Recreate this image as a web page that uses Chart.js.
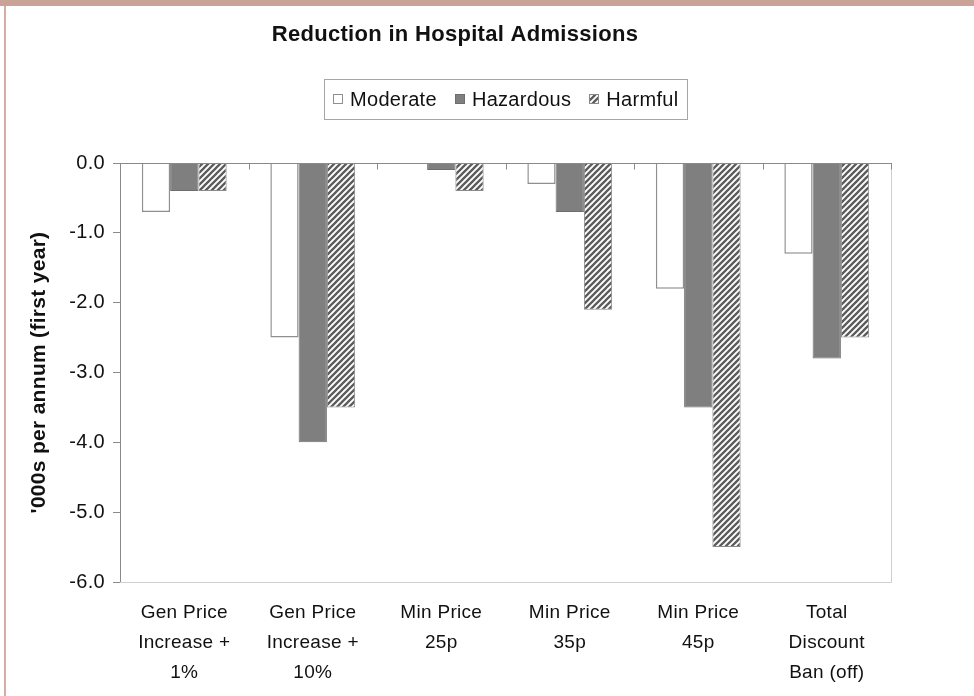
<!DOCTYPE html>
<html>
<head>
<meta charset="utf-8">
<title>Reduction in Hospital Admissions</title>
<script src="https://cdn.jsdelivr.net/npm/chart.js@4.4.1/dist/chart.umd.min.js"></script>
<style>
  html, body { margin: 0; padding: 0; background: #fff; }
  #wrap { position: relative; width: 974px; height: 696px; overflow: hidden; background: #fff; }
  #wrap canvas { position: absolute; left: 0; top: 0; }
  #frameTop { position: absolute; left: 0; top: 0; width: 974px; height: 6px; background: #c9a397; }
  #frameLeft { position: absolute; left: 4px; top: 6px; width: 2px; height: 690px; background: #d5ada2; }
</style>
</head>
<body>
<div id="wrap">
  <canvas id="chart" width="974" height="696"></canvas>
  <div id="frameTop"></div>
  <div id="frameLeft"></div>
</div>
<script>
// ---- data ----
const chartTitle = 'Reduction in Hospital Admissions';
const axisTitle = "'000s per annum (first year)";
const categories = [
  ['Gen Price', 'Increase +', '1%'],
  ['Gen Price', 'Increase +', '10%'],
  ['Min Price', '25p'],
  ['Min Price', '35p'],
  ['Min Price', '45p'],
  ['Total', 'Discount', 'Ban (off)']
];
const seriesNames = ['Moderate', 'Hazardous', 'Harmful'];
const moderate  = [-0.7, -2.5,  0.0, -0.3, -1.8, -1.3];
const hazardous = [-0.4, -4.0, -0.1, -0.7, -3.5, -2.8];
const harmful   = [-0.4, -3.5, -0.4, -2.1, -5.5, -2.5];
const yTicks = [0, -1, -2, -3, -4, -5, -6];

// ---- styling helpers ----
const FONT = '"Liberation Sans", Arial, Helvetica, sans-serif';
const TEXT = '#111111';

function stripePattern() {
  const t = document.createElement('canvas');
  t.width = 6; t.height = 6;
  const g = t.getContext('2d');
  g.fillStyle = '#ffffff';
  g.fillRect(0, 0, 6, 6);
  g.strokeStyle = '#5c5c5c';
  g.lineWidth = 2.3;
  g.beginPath();
  g.moveTo(-1, 7); g.lineTo(7, -1);
  g.moveTo(-4, 4); g.lineTo(4, -4);
  g.moveTo(2, 10); g.lineTo(10, 2);
  g.stroke();
  return g.createPattern(t, 'repeat');
}
const stripes = stripePattern();

const seriesStyle = [
  { backgroundColor: '#ffffff', borderColor: '#8f8f8f', borderWidth: 1.5 },
  { backgroundColor: '#7f7f7f', borderColor: '#6e6e6e', borderWidth: 1 },
  { backgroundColor: stripes,   borderColor: '#8a8a8a', borderWidth: 1 }
];
const seriesValues = [moderate, hazardous, harmful];

// slightly open letter spacing for all canvas text
const spacing = {
  id: 'spacing',
  beforeUpdate(chart) { chart.ctx.letterSpacing = '0.3px'; },
  beforeDraw(chart) { chart.ctx.letterSpacing = '0.3px'; }
};

// plot frame: zero line with category ticks, light right/bottom border
const frame = {
  id: 'frame',
  afterDatasetsDraw(chart) {
    const { ctx, chartArea: a, scales } = chart;
    const x = scales.x, y = scales.y;
    ctx.save();
    ctx.lineWidth = 1;
    ctx.strokeStyle = '#cfcfcf';
    ctx.beginPath();
    ctx.moveTo(a.left, a.bottom + 0.5);
    ctx.lineTo(a.right + 0.5, a.bottom + 0.5);
    ctx.lineTo(a.right + 0.5, a.top);
    ctx.stroke();
    const y0 = Math.round(y.getPixelForValue(0)) + 0.5;
    const step = x.getPixelForValue(1) - x.getPixelForValue(0);
    ctx.strokeStyle = '#8a8a8a';
    ctx.beginPath();
    ctx.moveTo(a.left, y0);
    ctx.lineTo(a.right + 1, y0);
    for (let i = 0; i <= categories.length; i++) {
      const px = Math.round(x.getPixelForValue(0) - step / 2 + i * step) + 0.5;
      ctx.moveTo(px, y0);
      ctx.lineTo(px, y0 + 6);
    }
    ctx.stroke();
    ctx.restore();
  }
};

// title and boxed legend
const heading = {
  id: 'heading',
  afterDraw(chart) {
    const { ctx, chartArea: a } = chart;
    ctx.save();
    ctx.fillStyle = TEXT;
    ctx.textBaseline = 'middle';
    ctx.textAlign = 'center';
    ctx.font = 'bold 22px ' + FONT;
    ctx.fillText(chartTitle, 455, 35);

    ctx.font = '20px ' + FONT;
    const box = 10, gap = 7, between = 18, pad = 9;
    const widths = seriesNames.map(n => ctx.measureText(n).width);
    const total = widths.reduce((s, w) => s + box + gap + w, 0) + between * (seriesNames.length - 1) + pad * 2;
    const left = Math.round((a.left + a.right) / 2 - total / 2);
    const top = 79, h = 40, cy = top + h / 2;
    ctx.strokeStyle = '#a6a6a6';
    ctx.lineWidth = 1;
    ctx.strokeRect(left + 0.5, top + 0.5, Math.round(total), h);
    let cx = left + pad;
    ctx.textAlign = 'left';
    seriesNames.forEach((name, i) => {
      const s = seriesStyle[i];
      const bx = Math.round(cx), by = Math.round(cy - box / 2);
      ctx.fillStyle = s.backgroundColor;
      ctx.fillRect(bx, by, box, box);
      ctx.strokeStyle = s.borderColor;
      ctx.strokeRect(bx + 0.5, by + 0.5, box - 1, box - 1);
      ctx.fillStyle = TEXT;
      ctx.fillText(name, cx + box + gap, cy + 1);
      cx += box + gap + widths[i] + between;
    });
    ctx.restore();
  }
};

new Chart(document.getElementById('chart'), {
  type: 'bar',
  data: {
    labels: categories,
    datasets: seriesNames.map((name, i) => Object.assign({
      label: name,
      data: seriesValues[i],
      barPercentage: 1.0,
      categoryPercentage: 0.66
    }, seriesStyle[i]))
  },
  options: {
    responsive: false,
    animation: false,
    devicePixelRatio: 1,
    layout: { padding: { left: 0, right: 83, top: 163, bottom: 0 } },
    plugins: {
      legend: { display: false },
      title: { display: false },
      tooltip: { enabled: false }
    },
    scales: {
      x: {
        grid: { display: false, drawTicks: false },
        border: { display: false },
        ticks: {
          color: TEXT,
          font: { family: FONT, size: 19, lineHeight: 30 / 19 },
          padding: 16,
          maxRotation: 0,
          autoSkip: false
        },
        afterFit(s) { s.height = 114; }
      },
      y: {
        min: -6,
        max: 0,
        afterBuildTicks(s) { s.ticks = yTicks.map(v => ({ value: v })); },
        grid: { drawOnChartArea: false, drawTicks: true, tickLength: 7, color: '#8a8a8a' },
        border: { color: '#8a8a8a', width: 1 },
        ticks: {
          color: TEXT,
          font: { family: FONT, size: 20 },
          padding: 8,
          callback: v => Number(v).toFixed(1)
        },
        title: {
          display: true,
          text: axisTitle,
          color: TEXT,
          font: { family: FONT, size: 21, weight: 'bold' },
          padding: { top: 27, bottom: 0 }
        },
        afterFit(s) { s.width = 120; }
      }
    }
  },
  plugins: [spacing, frame, heading]
});
</script>
</body>
</html>
